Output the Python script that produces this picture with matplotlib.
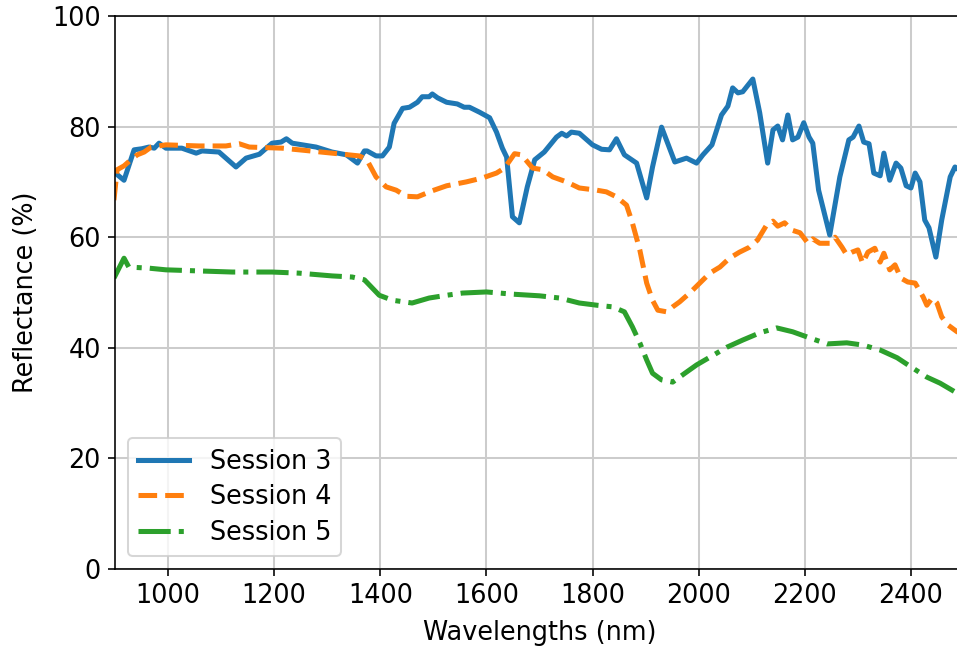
import matplotlib
matplotlib.use("Agg")
import matplotlib.pyplot as plt

# Session 3 (solid)
s3_x = [898, 917, 936, 951, 964, 974, 983, 996, 1026, 1053, 1064, 1096, 1128, 1147, 1172,
        1196, 1213, 1223, 1234, 1279, 1309, 1336, 1357, 1370, 1375, 1392, 1404, 1417, 1426,
        1442, 1455, 1470, 1479, 1492, 1498, 1508, 1525, 1545, 1558, 1568, 1587, 1606, 1619,
        1630, 1638, 1649, 1662, 1677, 1691, 1709, 1732, 1742, 1751, 1760, 1775, 1800, 1817,
        1832, 1845, 1860, 1883, 1902, 1913, 1930, 1955, 1977, 1996, 2008, 2025, 2043, 2055,
        2064, 2074, 2083, 2102, 2115, 2130, 2140, 2149, 2158, 2168, 2177, 2187, 2198, 2208,
        2215, 2226, 2247, 2266, 2283, 2291, 2302, 2311, 2321, 2330, 2342, 2349, 2360, 2372,
        2381, 2391, 2400, 2408, 2417, 2426, 2434, 2447, 2458, 2474, 2483, 2500]
s3_y = [71.8, 70.3, 75.8, 76.0, 76.3, 76.1, 77.0, 76.1, 76.1, 75.2, 75.6, 75.4, 72.7, 74.3, 75.0,
        77.0, 77.2, 77.8, 77.0, 76.3, 75.4, 74.9, 73.4, 75.6, 75.6, 74.7, 74.7, 76.3, 80.6,
        83.3, 83.5, 84.4, 85.4, 85.4, 85.9, 85.2, 84.4, 84.1, 83.5, 83.5, 82.6, 81.6, 79.0,
        76.1, 74.5, 63.7, 62.6, 69.1, 74.0, 75.4, 78.1, 78.8, 78.3, 79.0, 78.8, 76.7, 75.9,
        75.8, 77.8, 74.9, 73.4, 67.1, 72.7, 79.9, 73.6, 74.3, 73.4, 74.9, 76.7, 82.1, 83.7,
        87.0, 86.1, 86.3, 88.6, 82.5, 73.4, 79.4, 80.1, 77.6, 82.1, 77.6, 78.1, 80.7, 78.1,
        77.0, 68.5, 60.4, 70.9, 77.6, 78.1, 80.1, 77.2, 76.9, 71.6, 71.1, 75.2, 70.3, 73.4,
        72.5, 69.3, 68.9, 71.6, 70.0, 63.1, 61.7, 56.4, 63.1, 70.9, 72.7, 71.5]

# Session 4 (dashed)
s4_x = [898, 904, 917, 930, 942, 955, 968, 996, 1058, 1109, 1134, 1153, 1215, 1247, 1309,
        1360, 1374, 1392, 1411, 1430, 1449, 1470, 1498, 1525, 1562, 1592, 1619, 1634, 1653,
        1666, 1687, 1706, 1725, 1751, 1775, 1808, 1826, 1845, 1864, 1875, 1889, 1902, 1913,
        1923, 1940, 1951, 1964, 1983, 2002, 2021, 2040, 2058, 2077, 2096, 2111, 2128, 2140,
        2149, 2162, 2175, 2191, 2206, 2215, 2228, 2247, 2257, 2270, 2279, 2289, 2300, 2309,
        2319, 2332, 2342, 2349, 2360, 2370, 2381, 2394, 2408, 2423, 2430, 2440, 2449, 2458,
        2470, 2487, 2500]
s4_y = [66.7, 72.2, 72.9, 74.0, 74.9, 75.4, 76.3, 76.7, 76.5, 76.5, 76.9, 76.3, 76.1, 75.8, 75.2,
        74.7, 74.1, 70.9, 69.1, 68.5, 67.4, 67.3, 68.4, 69.3, 70.0, 70.7, 71.6, 72.5, 75.1,
        74.9, 72.5, 72.2, 70.9, 70.0, 68.9, 68.5, 68.2, 67.3, 65.8, 62.6, 57.7, 51.7, 48.6,
        46.8, 46.5, 47.4, 48.3, 49.9, 51.7, 53.5, 54.6, 56.2, 57.3, 58.2, 59.5, 62.2, 62.9,
        62.0, 62.6, 61.3, 60.8, 58.9, 59.7, 58.9, 58.9, 60.0, 58.2, 56.8, 57.3, 57.7, 55.3,
        57.3, 58.0, 55.5, 57.1, 54.1, 55.0, 52.6, 51.9, 51.7, 49.2, 47.7, 49.0, 48.1, 45.6,
        44.1, 42.9, 42.5]

# Session 5 (dash-dot)
s5_x = [898, 917, 926, 964, 996, 1058, 1121, 1196, 1247, 1309, 1347, 1370, 1385, 1398, 1423,
        1460, 1492, 1525, 1555, 1600, 1649, 1700, 1738, 1775, 1808, 1838, 1860, 1875, 1889,
        1902, 1913, 1930, 1951, 1974, 1996, 2021, 2053, 2083, 2115, 2147, 2177, 2209, 2242,
        2279, 2309, 2342, 2374, 2404, 2430, 2455, 2487, 2500]
s5_y = [52.6, 56.2, 54.6, 54.4, 54.1, 53.9, 53.7, 53.7, 53.5, 53.0, 52.8, 52.3, 50.8, 49.5, 48.6,
        48.1, 49.0, 49.5, 49.9, 50.1, 49.7, 49.4, 49.0, 48.1, 47.7, 47.4, 46.5, 43.8, 40.9,
        37.8, 35.4, 34.2, 33.8, 35.4, 36.9, 38.3, 40.1, 41.4, 42.7, 43.6, 42.9, 41.8, 40.7,
        40.9, 40.5, 39.6, 38.2, 36.3, 34.7, 33.6, 31.8, 31.5]

labels = ["Session 3", "Session 4", "Session 5"]

DPI = 145
FS = 12.7
fig = plt.figure(figsize=(957 / DPI, 648 / DPI), dpi=DPI)
ax = fig.add_axes([115 / 957, 79 / 648, 849 / 957, 553 / 648])

ax.plot(s3_x, s3_y, color="#1f77b4", lw=2.5, ls="-", label=labels[0])
ax.plot(s4_x, s4_y, color="#ff7f0e", lw=2.5, ls="--", label=labels[1])
ax.plot(s5_x, s5_y, color="#2ca02c", lw=2.5, ls="-.", label=labels[2])

ax.set_xlim(900, 2500)
ax.set_ylim(0, 100)
ax.set_xticks(range(1000, 2401, 200))
ax.set_yticks(range(0, 101, 20))
ax.tick_params(labelsize=FS)
ax.grid(True, color="#cccccc", lw=1.0)
ax.set_axisbelow(True)
ax.set_xlabel("Wavelengths (nm)", fontsize=FS, labelpad=5.5)
ax.set_ylabel("Reflectance (%)", fontsize=FS, labelpad=6.5)
ax.legend(loc="lower left", fontsize=FS, labelspacing=0.38)

fig.savefig("out.png", dpi=DPI)
